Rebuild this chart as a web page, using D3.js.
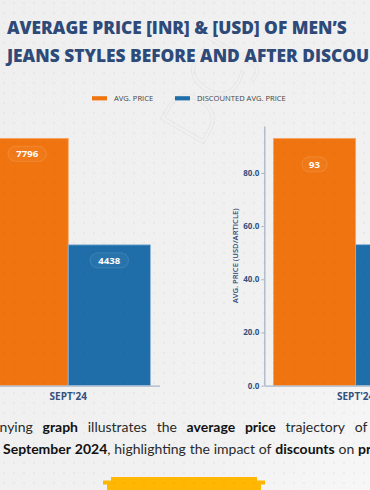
<!DOCTYPE html>
<html>
<head>
<meta charset="utf-8">
<script src="https://cdn.jsdelivr.net/npm/d3@7"></script>
<style>
  html, body { margin: 0; padding: 0; background: #f0f0f0; overflow: hidden; }
  svg { display: block; }
</style>
</head>
<body>
<div id="chart"></div>
<script>
// data
var categories = ["SEPT'24"];
var seriesNames = ["AVG. PRICE", "DISCOUNTED AVG. PRICE"];
var inrValues = [7796, 4438];
var usdValues = [93, 53];
var usdTicks = [0, 20, 40, 60, 80];
var titleLines = ["AVERAGE PRICE [INR] & [USD] OF MEN\u2019S", "JEANS STYLES BEFORE AND AFTER DISCOUNTS"];

var W = 370, H = 490;
var colors = d3.scaleOrdinal().domain(seriesNames).range(["#f07511", "#1f6ea9"]);
var strokes = d3.scaleOrdinal().domain(seriesNames).range(["#f6a766", "#8fb5d6"]);

var svg = d3.select('#chart').append('svg')
  .attr('width', W)
  .attr('height', H)
  .attr('xmlns', 'http://www.w3.org/2000/svg');

var defs = svg.append('defs');
var bg = defs.append('linearGradient').attr('id', 'bg')
  .attr('x1', 0).attr('y1', 0).attr('x2', 1).attr('y2', 1);
bg.append('stop').attr('offset', '0%').attr('stop-color', '#efefef');
bg.append('stop').attr('offset', '70%').attr('stop-color', '#f1f1f1');
bg.append('stop').attr('offset', '100%').attr('stop-color', '#f7f7f7');

var dots = defs.append('pattern').attr('id', 'dots')
  .attr('width', 10).attr('height', 10)
  .attr('patternUnits', 'userSpaceOnUse');
dots.append('circle').attr('cx', 4).attr('cy', 3).attr('r', 0.9)
  .attr('fill', '#000').attr('fill-opacity', 0.05);

svg.append('rect').attr('width', W).attr('height', H).attr('fill', 'url(#bg)');

// faint watermark
svg.append('text')
  .attr('transform', 'translate(200,150) rotate(-60)')
  .attr('font-family', 'Open Sans, sans-serif')
  .attr('font-size', 70)
  .attr('font-weight', 300)
  .attr('fill', 'none')
  .attr('stroke', '#000')
  .attr('stroke-opacity', 0.04)
  .text('DCJ');

// title - first line should run from x=7 to about x=347
var title = svg.append('g').selectAll('text')
  .data(titleLines)
  .enter().append('text')
    .attr('x', 7)
    .attr('y', (d, i) => 33.5 + i * 28.5)
    .attr('font-family', 'Open Sans, sans-serif')
    .attr('font-weight', 800)
    .attr('font-size', 16.6)
    .attr('fill', '#2e4a78')
    .text(d => d);
var tw = title.nodes()[0].getComputedTextLength();
title.attr('font-size', 16.6 * 340 / tw);

// legend
var legend = svg.append('g').attr('font-family', 'Open Sans, sans-serif').attr('font-size', 7.6);
var legendX = [92, 175];
seriesNames.forEach((s, i) => {
  legend.append('rect')
    .attr('x', legendX[i]).attr('y', 96.2)
    .attr('width', 15).attr('height', 4.2)
    .attr('fill', colors(s));
  legend.append('text')
    .attr('x', legendX[i] + 22).attr('y', 101.2)
    .attr('fill', '#444')
    .text(s);
});

var y0 = 385.6, yTop = 126;

drawPanel = (values, x0, x1, opts) => {
  var g = svg.append('g');
  var y = d3.scaleLinear()
    .domain([0, d3.max(values) * 1.05])
    .range([y0, yTop]);
  var x = d3.scaleBand()
    .domain(categories)
    .range([x0, x1])
    .paddingInner(0.1)
    .paddingOuter(0.05);
  var xs = d3.scaleBand()
    .domain(seriesNames)
    .range([0, x.bandwidth()]);

  var rows = seriesNames.map((s, i) => ({ name: s, cat: categories[0], value: values[i] }));

  g.selectAll('rect.bar')
    .data(rows)
    .enter().append('rect')
      .attr('class', 'bar')
      .attr('x', d => x(d.cat) + xs(d.name))
      .attr('y', d => y(d.value))
      .attr('width', xs.bandwidth())
      .attr('height', d => y0 - y(d.value))
      .attr('fill', d => colors(d.name))
      .attr('stroke', d => strokes(d.name))
      .attr('stroke-width', 0.8);

  // value pills
  var lab = g.selectAll('g.lab')
    .data(rows)
    .enter().append('g')
      .attr('class', 'lab')
      .attr('transform', d => 'translate(' + (x(d.cat) + xs(d.name) + xs.bandwidth() / 2) + ',' + (y(d.value) + opts.labelOffset) + ')');
  lab.append('rect')
    .attr('x', d => -(String(d.value).length * 3.3 + 6))
    .attr('y', -7.5)
    .attr('width', d => 2 * (String(d.value).length * 3.3 + 6))
    .attr('height', 15)
    .attr('rx', 7.5)
    .attr('fill', '#fff').attr('fill-opacity', 0.04)
    .attr('stroke', '#fff').attr('stroke-opacity', 0.12);
  lab.append('text')
    .attr('text-anchor', 'middle')
    .attr('dy', 3.4)
    .attr('font-family', 'Open Sans, sans-serif')
    .attr('font-weight', 700)
    .attr('font-size', 9.6)
    .attr('fill', '#fff')
    .text(d => d.value);

  // x axis
  var xAxis = g.append('g')
    .attr('transform', 'translate(0,' + y0 + ')')
    .call(d3.axisBottom(x).tickSize(0).tickPadding(7));
  xAxis.select('.domain').attr('stroke', '#a9b7c9').attr('stroke-width', 1.3);
  xAxis.selectAll('text')
    .attr('font-family', 'Open Sans, sans-serif')
    .attr('font-weight', 700)
    .attr('font-size', 10)
    .attr('fill', '#34507e');

  if (opts.yAxis) {
    var yAxis = g.append('g')
      .attr('transform', 'translate(' + x0 + ',0)')
      .call(d3.axisLeft(y).tickValues(usdTicks).tickFormat(d3.format('.1f')).tickSize(3).tickSizeOuter(0).tickPadding(2));
    yAxis.select('.domain').attr('stroke', '#a9b7c9').attr('stroke-width', 1.3);
    yAxis.selectAll('.tick line').attr('stroke', '#a9b7c9');
    yAxis.selectAll('text')
      .attr('font-family', 'Open Sans, sans-serif')
      .attr('font-weight', 700)
      .attr('font-size', 8)
      .attr('fill', '#34507e');
    g.append('text')
      .attr('transform', 'translate(' + (x0 - 26) + ',' + ((y0 + yTop) / 2) + ') rotate(-90)')
      .attr('text-anchor', 'middle')
      .attr('font-family', 'Open Sans, sans-serif')
      .attr('font-weight', 600)
      .attr('font-size', 7.6)
      .attr('fill', '#2e4a78')
      .text('AVG. PRICE (USD/ARTICLE)');
  }
};

drawPanel(inrValues, -23, 159.5, { yAxis: false, labelOffset: 15.5 });
drawPanel(usdValues, 264.3, 447, { yAxis: true, labelOffset: 26 });

// caption, justified word by word; a word is a list of [text, bold] pieces
var cap = svg.append('g').attr('font-family', 'Lato, sans-serif').attr('font-size', 14);

justify = (words, x0, x1, yb) => {
  var nodes = words.map(w => {
    var t = cap.append('text').attr('y', yb);
    w.forEach(p => t.append('tspan')
      .attr('font-weight', p[1] ? 700 : 400)
      .attr('fill', p[1] ? '#111' : '#2a2a2a')
      .text(p[0]));
    return t;
  });
  var widths = nodes.map(n => n.node().getComputedTextLength());
  var gap = (x1 - x0 - d3.sum(widths)) / (words.length - 1);
  var cx = x0;
  nodes.forEach((n, i) => { n.attr('x', cx); cx += widths[i] + gap; });
  return cx;
};

justify([[["nying", 0]], [["graph", 1]], [["illustrates", 0]], [["the", 0]], [["average", 1]], [["price", 1]], [["trajectory", 0]], [["of", 0]]], -0.5, 367.5, 431.5);
justify([[["September", 1]], [["2024", 1], [",", 0]], [["highlighting", 0]], [["the", 0]], [["impact", 0]], [["of", 0]], [["discounts", 1]], [["on", 0]], [["prices", 1]]], 3, 395, 453.5);

// yellow button peeking at the bottom
var btn = svg.append('g').attr('fill', '#ffb703');
btn.append('rect').attr('x', 111).attr('y', 477).attr('width', 146).attr('height', 20);
btn.append('rect').attr('x', 107).attr('y', 480.5).attr('width', 154).attr('height', 20);
btn.append('rect').attr('x', 103).attr('y', 480.5).attr('width', 4).attr('height', 4);
btn.append('rect').attr('x', 261).attr('y', 480.5).attr('width', 4).attr('height', 4);

// dot overlay over everything
svg.append('rect').attr('width', W).attr('height', H)
  .attr('fill', 'url(#dots)')
  .style('pointer-events', 'none');
</script>
</body>
</html>
